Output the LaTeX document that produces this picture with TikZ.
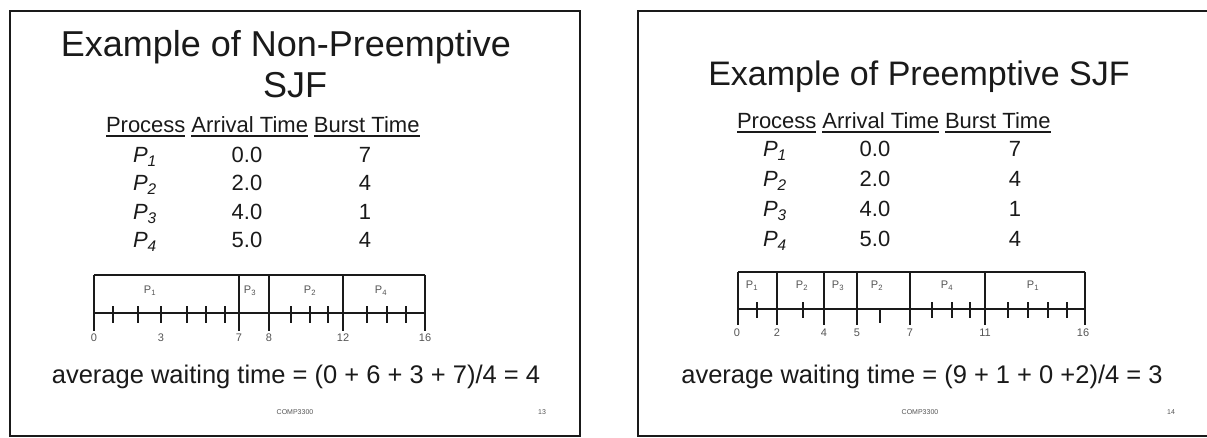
\documentclass[tikz,border=0pt]{standalone}
\usepackage{fontspec}
\setmainfont{Liberation Sans}
\usetikzlibrary{calc}
\definecolor{ink}{HTML}{1A1A1A}
\definecolor{soft}{HTML}{555555}
\begin{document}
\begin{tikzpicture}[x=1pt,y=-1pt,
  every node/.style={inner sep=0pt,outer sep=0pt,text=ink},
  slideframe/.style={draw=ink,line width=1.6pt},
  titletext/.style={anchor=base,font=\fontsize{36}{40}\selectfont},
  titletextR/.style={anchor=base,font=\fontsize{34}{38}\selectfont},
  hdr/.style={anchor=base west,font=\fontsize{22}{26}\selectfont},
  cellc/.style={anchor=base,font=\fontsize{22}{26}\selectfont},
  cellp/.style={anchor=base west,font=\fontsize{22}{26}\selectfont\itshape},
  uline/.style={draw=ink,line width=1.3pt},
  bodytext/.style={anchor=base,font=\fontsize{25.5}{30}\selectfont},
  foot/.style={anchor=base,font=\fontsize{7}{8}\selectfont,text=soft},
  gline/.style={draw=ink,line width=1.1pt},
  glab/.style={font=\fontsize{11}{13}\selectfont,text=soft}
]
\fill[white] (0,0) rectangle (1207,438);
\useasboundingbox (0,0) rectangle (1207,438);

% ---------------- left slide ----------------
\draw[slideframe] (10,11) rectangle (580,436);
\node[titletext] (lt1) at (286,57) {Example of Non-Preemptive};
\node[titletext] (lt2) at (295,98) {SJF};

\node[hdr] (lhP) at (106,133) {Process};
\node[hdr] (lhA) at ($(lhP.base east)+(6,0)$) {Arrival Time};
\node[hdr] (lhB) at ($(lhA.base east)+(6,0)$) {Burst Time};
\foreach \n in {lhP,lhA,lhB}
  \draw[uline] ($(\n.base west)+(0,3)$) -- ($(\n.base east)+(0,3)$);

\foreach \y/\p/\a/\b [count=\i] in {163/1/0.0/7,191/2/2.0/4,220/3/4.0/1,248/4/5.0/4}{
  \node[cellp] (lP\i) at (133,\y) {P\textsubscript{\p}};
  \node[cellc] (lA\i) at (247,\y) {\a};
  \node[cellc] (lB\i) at (365,\y) {\b};
}

% Gantt chart (non-preemptive)
\draw[gline] (94,275) -- (425,275);
\draw[gline] (94,313) -- (425,313);
\foreach \x in {94,239,269,343,425} \draw[gline] (\x,275) -- (\x,331);
\foreach \x in {113,138,161,187,206,225,291,310,328,367,387,406} \draw[gline] (\x,306) -- (\x,323);
\foreach \x/\t [count=\i] in {94/0,161/3,239/7,269/8,343/12,425/16}
  \node[glab] (lx\i) at (\x,338) {\t};
\foreach \x/\p [count=\i] in {150/1,250/3,310/2,381/4}
  \node[glab] (lg\i) at (\x,291) {P\textsubscript{\p}};

\node[bodytext] (lavg) at (296,383) {average waiting time = (0 + 6 + 3 + 7)/4 = 4};
\node[foot] (lfoot) at (295,414) {COMP3300};
\node[foot] (lnum) at (542,414) {13};

% ---------------- right slide ----------------
\draw[slideframe] (1215,11) -- (638,11) -- (638,436) -- (1215,436);
\node[titletextR] (rt1) at (919,86) {Example of Preemptive SJF};

\node[hdr] (rhP) at (737,129) {Process};
\node[hdr] (rhA) at ($(rhP.base east)+(6,0)$) {Arrival Time};
\node[hdr] (rhB) at ($(rhA.base east)+(6,0)$) {Burst Time};
\foreach \n in {rhP,rhA,rhB}
  \draw[uline] ($(\n.base west)+(0,3)$) -- ($(\n.base east)+(0,3)$);

\foreach \y/\p/\a/\b [count=\i] in {157/1/0.0/7,187/2/2.0/4,217/3/4.0/1,247/4/5.0/4}{
  \node[cellp] (rP\i) at (763,\y) {P\textsubscript{\p}};
  \node[cellc] (rA\i) at (875,\y) {\a};
  \node[cellc] (rB\i) at (1015,\y) {\b};
}

% Gantt chart (preemptive)
\draw[gline] (738,272) -- (1085,272);
\draw[gline] (738,309) -- (1085,309);
\foreach \x in {738,777,824,857,910,985,1085} \draw[gline] (\x,272) -- (\x,325);
\foreach \x in {757,803,932,952,970,1008,1028,1048,1067} \draw[gline] (\x,302) -- (\x,318);
\draw[gline] (880,309) -- (880,323);
\foreach \x/\t [count=\i] in {737/0,777/2,824/4,857/5,910/7,985/11,1083/16}
  \node[glab] (rx\i) at (\x,333) {\t};
\foreach \x/\p [count=\i] in {752/1,802/2,838/3,877/2,947/4,1033/1}
  \node[glab] (rg\i) at (\x,286) {P\textsubscript{\p}};

\node[bodytext] (ravg) at (922,383) {average waiting time = (9 + 1 + 0 +2)/4 = 3};
\node[foot] (rfoot) at (920,414) {COMP3300};
\node[foot] (rnum) at (1171,414) {14};
\end{tikzpicture}
\end{document}
